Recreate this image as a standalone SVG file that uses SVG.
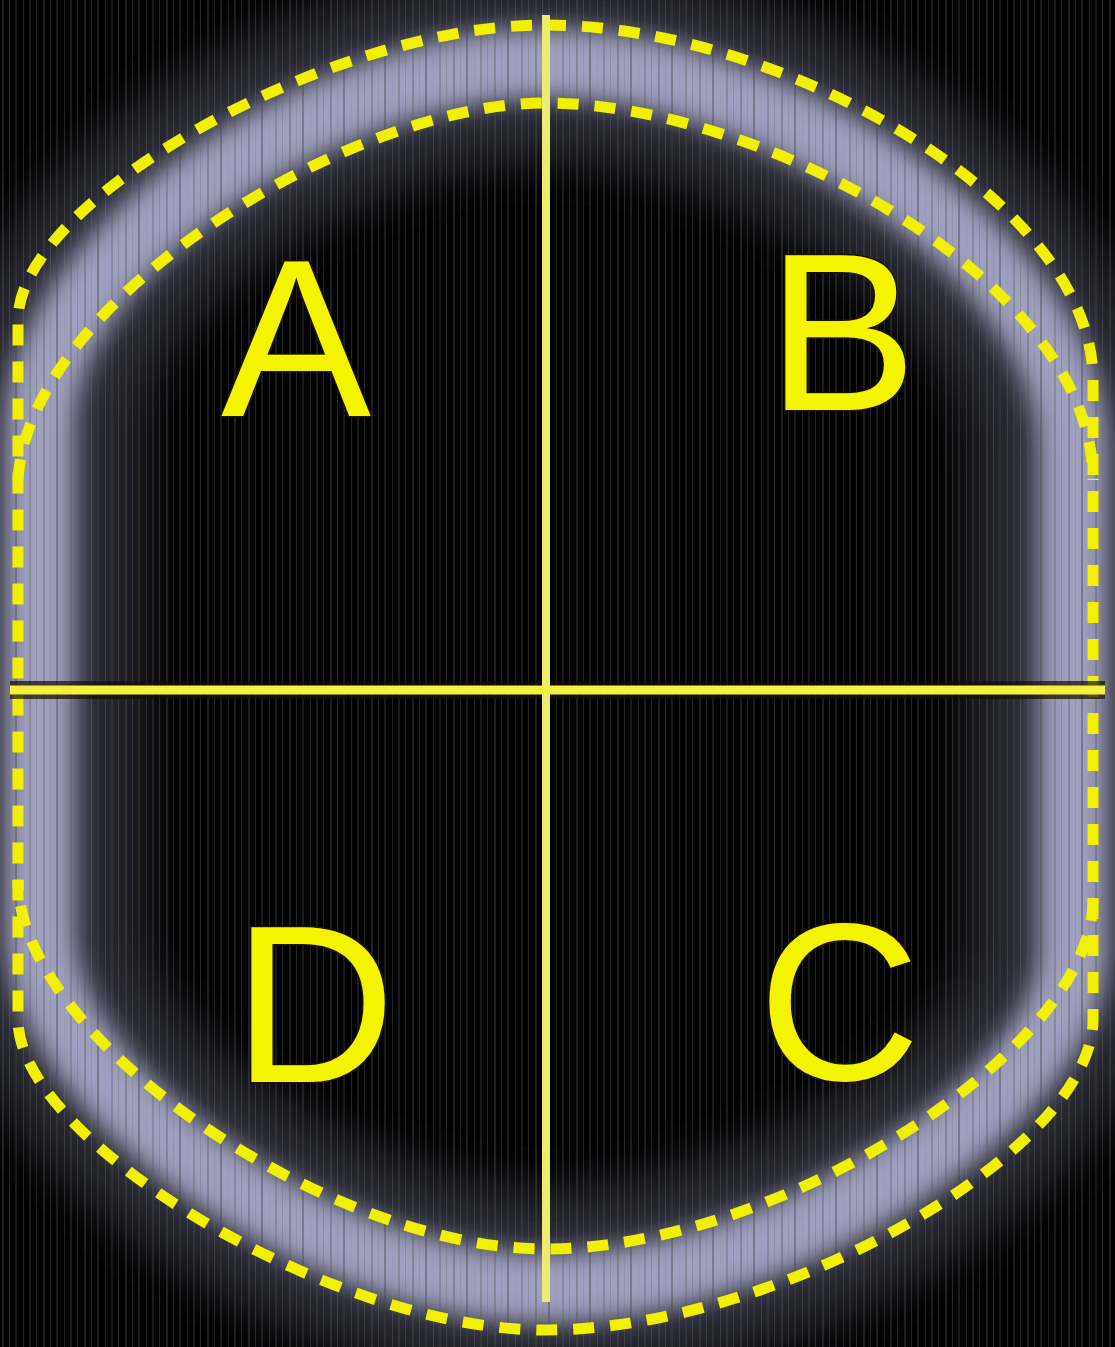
<svg xmlns="http://www.w3.org/2000/svg" width="1115" height="1347" viewBox="0 0 1115 1347">
  <defs>
    <pattern id="streaks" x="0" y="0" width="41" height="1347" patternUnits="userSpaceOnUse">
      <rect x="2" y="0" width="2" height="1347" fill="#555" opacity="0.35"/>
      <rect x="9" y="0" width="1" height="1347" fill="#777" opacity="0.3"/>
      <rect x="15" y="0" width="2" height="1347" fill="#444" opacity="0.4"/>
      <rect x="23" y="0" width="1" height="1347" fill="#888" opacity="0.25"/>
      <rect x="29" y="0" width="2" height="1347" fill="#555" opacity="0.3"/>
      <rect x="36" y="0" width="1" height="1347" fill="#666" opacity="0.35"/>
    </pattern>
    <filter id="blurBig" x="-20%" y="-20%" width="140%" height="140%">
      <feGaussianBlur stdDeviation="28"/>
    </filter>
    <filter id="blurMid" x="-20%" y="-20%" width="140%" height="140%">
      <feGaussianBlur stdDeviation="12"/>
    </filter>
  </defs>
  <style>
    .dash { fill: none; stroke: #f0f000; stroke-width: 11; stroke-dasharray: 21 16; }
    .label { font-family: "Liberation Sans", Arial, sans-serif; font-size: 225px; fill: #f4f400; stroke: #1a1400; stroke-width: 3; paint-order: stroke; }
  </style>

  <rect x="0" y="0" width="1115" height="1347" fill="#000"/>

  <g id="halo">
    <path d="M 545,62 C 340,62 45,230 45,420 L 45,940 C 45,1100 330,1288 545,1288 C 780,1288 1068,1100 1068,960 L 1068,440 C 1068,260 780,62 545,62 Z"
          fill="none" stroke="#3a3a48" stroke-width="190" opacity="0.75" filter="url(#blurBig)"/>
    <path d="M 545,63 C 340,63 40,240 40,430 L 40,930 C 40,1100 330,1288 545,1288 C 780,1288 1073,1100 1073,950 L 1073,450 C 1073,260 780,63 545,63 Z"
          fill="none" stroke="#b0b0d2" stroke-width="70" opacity="0.88" filter="url(#blurMid)"/>
  </g>

  <rect x="0" y="0" width="1115" height="1347" fill="url(#streaks)"/>

  <g id="ring-outer">
    <path class="dash" d="M 545,25 C 780,25 1093,200 1093,380 L 1093,1020 C 1093,1150 780,1330 545,1330 C 330,1330 18,1140 18,1020 L 18,320 C 18,200 330,25 545,25 Z"/>
  </g>
  <g id="ring-inner">
    <path class="dash" d="M 18,480 C 28,300 350,103 545,103 C 760,103 1093,280 1093,480"/>
    <path class="dash" d="M 1093,900 C 1093,1050 780,1249 545,1249 C 330,1249 18,1040 18,880"/>
  </g>

  <g id="connectors">
    <line x1="10" y1="690" x2="1105" y2="690" stroke="#1a1000" stroke-width="18" opacity="0.7"/>
    <line x1="546" y1="15" x2="546" y2="1302" stroke="#ecec70" stroke-width="8"/>
    <line x1="10" y1="690" x2="1105" y2="690" stroke="#f2f040" stroke-width="9"/>
  </g>

  <g id="node-A"><text class="label" x="221" y="416">A</text></g>
  <g id="node-B"><text class="label" x="767" y="410">B</text></g>
  <g id="node-C"><text class="label" x="758" y="1080">C</text></g>
  <g id="node-D"><text class="label" x="233" y="1082">D</text></g>
</svg>
